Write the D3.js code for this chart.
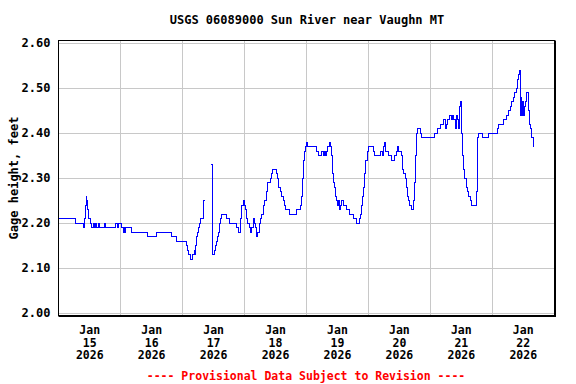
<!DOCTYPE html>
<html>
<head>
<meta charset="utf-8">
<script src="https://cdn.jsdelivr.net/npm/d3@7"></script>
<style>
  body { margin: 0; background: #fff; }
  text { font-family: "DejaVu Sans Mono", "Liberation Mono", monospace; font-weight: bold; }
</style>
</head>
<body>
<div id="chart"></div>
<script>
// hours after Jan 15 2026 00:00, gage height in feet (null = gap in record)
var hours = [0, 6.6, 9.5, 9.9, 10.3, 10.6, 10.9, 11.2, 11.5, 12.1, 12.8, 13.3, 13.7, 14.3, 14.6, 15.5, 15.9, 17.7, 18.1,
    21.8, 22.6, 23.0, 24.4, 24.9, 25.2, 25.5, 26.0, 28.0, 34.2, 38.0, 43.7, 45.7, 49.3, 50.0, 50.4, 51.1, 52.0, 52.4,
    52.7, 53.0, 53.3, 53.7, 54.1, 54.5, 55.0, 55.9, 56.2, 56.5, 56.6,
    59.1, 59.4, 60.3, 60.8, 61.2, 61.6, 62.0, 62.4, 62.8, 63.1, 65.1, 66.1, 68.9, 69.6, 70.6, 71.0, 71.4, 71.9, 72.3,
    72.8, 73.3, 73.8, 74.3, 74.8, 75.3, 75.7, 76.2, 76.6, 77.1, 77.6, 78.2, 78.7, 79.2, 79.8, 80.4, 81.0, 81.9, 82.4,
    83.0, 84.4, 84.9, 85.3, 85.9, 86.4, 86.9, 87.3, 87.9, 89.3, 92.2, 93.8, 94.2, 94.5, 94.8, 95.1, 95.5, 95.9, 96.3,
    99.9, 100.5, 102.0, 102.4, 102.8, 103.2, 103.7, 104.3, 104.9, 105.3, 105.6, 105.9, 106.3, 106.7, 107.2, 107.6,
    108.0, 108.4, 108.7, 109.2, 109.6, 110.5, 111.6, 112.7, 114.4, 115.5, 116.5, 116.9, 117.3, 117.7, 118.1, 118.5,
    119.0, 119.5, 120.0, 122.0, 122.5, 124.8, 125.3, 125.8, 126.4, 126.8, 127.7, 129.0, 130.1, 130.7, 131.4, 131.8,
    132.9, 133.2, 133.7, 134.3, 134.8, 135.2, 135.7, 136.1, 136.7, 137.6, 138.0, 138.3, 138.7, 139.1, 140.2, 140.7,
    145.8, 146.6, 147.8, 149.2, 149.7, 150.3, 150.8, 151.5, 152.2, 152.7, 153.1, 153.6, 154.1, 154.4, 154.8, 155.3,
    155.6, 156.0, 156.4, 156.9, 157.4, 157.9, 158.4, 158.9, 159.4, 159.9, 161.7, 162.1, 162.4, 162.8, 164.3, 166.4,
    170.1, 170.5, 172.2, 173.6, 174.3, 174.9, 175.6, 176.2, 176.8, 177.3, 177.8, 178.3, 178.6, 178.9, 179.2, 179.5,
    179.8, 180.1, 180.5, 181.0, 181.4, 182.2, 182.6, 183.0, 183.3, 183.9, 184.2];

var gageFt = [2.21, 2.20, 2.19, 2.21, 2.24, 2.26, 2.25, 2.23, 2.21, 2.20, 2.19, 2.20, 2.19, 2.20, 2.19, 2.20, 2.19, 2.20, 2.19,
    2.20, 2.19, 2.20, 2.19, 2.18, 2.19, 2.18, 2.19, 2.18, 2.17, 2.18, 2.17, 2.16, 2.15, 2.14, 2.13, 2.12, 2.13, 2.14,
    2.13, 2.15, 2.17, 2.18, 2.19, 2.20, 2.21, 2.23, 2.25, 2.25, null,
    2.33, 2.13, 2.14, 2.15, 2.16, 2.17, 2.18, 2.20, 2.21, 2.22, 2.21, 2.20, 2.19, 2.18, 2.21, 2.24, 2.25, 2.24, 2.23,
    2.21, 2.20, 2.19, 2.18, 2.19, 2.21, 2.20, 2.19, 2.17, 2.18, 2.20, 2.21, 2.22, 2.24, 2.25, 2.27, 2.29, 2.30, 2.31,
    2.32, 2.31, 2.30, 2.28, 2.27, 2.26, 2.25, 2.24, 2.23, 2.22, 2.23, 2.24, 2.26, 2.30, 2.34, 2.36, 2.37, 2.38, 2.37,
    2.36, 2.35, 2.36, 2.35, 2.36, 2.35, 2.36, 2.37, 2.38, 2.37, 2.35, 2.31, 2.29, 2.28, 2.26, 2.25,
    2.24, 2.25, 2.23, 2.24, 2.25, 2.24, 2.23, 2.22, 2.21, 2.20, 2.21, 2.22, 2.24, 2.26, 2.28, 2.31,
    2.34, 2.36, 2.37, 2.36, 2.35, 2.36, 2.35, 2.37, 2.38, 2.36, 2.35, 2.34, 2.35, 2.36, 2.37, 2.36,
    2.35, 2.32, 2.31, 2.30, 2.28, 2.26, 2.25, 2.24, 2.23, 2.25, 2.29, 2.35, 2.40, 2.41, 2.40, 2.39,
    2.40, 2.41, 2.42, 2.43, 2.41, 2.42, 2.43, 2.44, 2.43, 2.44, 2.43, 2.41, 2.44, 2.43, 2.41, 2.46,
    2.47, 2.40, 2.35, 2.32, 2.30, 2.28, 2.27, 2.26, 2.25, 2.24, 2.27, 2.35, 2.39, 2.40, 2.39, 2.40,
    2.41, 2.42, 2.43, 2.44, 2.45, 2.46, 2.47, 2.48, 2.49, 2.50, 2.52, 2.53, 2.54, 2.44, 2.48, 2.44,
    2.47, 2.44, 2.46, 2.47, 2.49, 2.45, 2.42, 2.41, 2.39, 2.37, 2.37];

var yTicks = [2.00, 2.10, 2.20, 2.30, 2.40, 2.50, 2.60];
var dayLabels = ["15", "16", "17", "18", "19", "20", "21", "22"];
var monthLabel = "Jan";
var yearLabel = "2026";
var title = "USGS 06089000 Sun River near Vaughn MT";
var yTitle = "Gage height, feet";
var footer = "---- Provisional Data Subject to Revision ----";

var width = 576;
var height = 384;
// plot frame (named so they don't clash with window.top)
var plotLeft = 58.5, plotRight = 554.5, plotTop = 40.5, plotBottom = 315.5;

var t0 = Date.UTC(2026, 0, 15);
var hourMs = 3600 * 1000;

var data = hours.map(function (h, i) {
    return { date: new Date(t0 + h * hourMs), value: gageFt[i] };
});

var svg = d3.select("#chart")
    .append("svg")
    .attr("width", width)
    .attr("height", height);

svg.append("rect").attr("width", width).attr("height", height).attr("fill", "#fff");

var xScale = d3.scaleUtc()
    .domain([new Date(t0), new Date(t0 + 8 * 24 * hourMs)])
    .range([58.8, 554.2]);

var yScale = d3.scaleLinear()
    .domain([2.0, 2.6])
    .range([313, 43]);

// grid
var midnights = d3.range(1, 8).map(function (d) { return new Date(t0 + d * 24 * hourMs); });
svg.append("g")
    .selectAll("line")
    .data(midnights)
    .enter().append("line")
    .attr("x1", function (d) { return Math.floor(xScale(d)) + 0.5; })
    .attr("x2", function (d) { return Math.floor(xScale(d)) + 0.5; })
    .attr("y1", plotTop)
    .attr("y2", plotBottom)
    .attr("stroke", "#c8c8c8")
    .attr("stroke-width", 1);

svg.append("g")
    .attr("transform", "translate(" + plotLeft + ",0)")
    .call(d3.axisLeft(yScale).tickValues(yTicks).tickSize(-(plotRight - plotLeft)).tickFormat(""))
    .call(function (g) { g.select(".domain").remove(); })
    .selectAll("line")
    .attr("stroke", "#c8c8c8")
    .attr("shape-rendering", "crispEdges");

// y tick labels
svg.append("g")
    .attr("transform", "translate(" + plotLeft + ",0)")
    .call(d3.axisLeft(yScale).tickValues(yTicks).tickSize(0).tickPadding(8).tickFormat(d3.format(".2f")))
    .call(function (g) { g.select(".domain").remove(); })
    .selectAll("text")
    .attr("font-family", "DejaVu Sans Mono")
    .attr("font-weight", "bold")
    .attr("font-size", "12px")
    .attr("fill", "#000");

// the gage line
var line = d3.line()
    .defined(function (d) { return d.value !== null; })
    .x(function (d) { return xScale(d.date); })
    .y(function (d) { return yScale(d.value); })
    .curve(d3.curveStepAfter);

svg.append("path")
    .datum(data)
    .attr("fill", "none")
    .attr("stroke", "#0000ff")
    .attr("stroke-width", 1)
    .attr("shape-rendering", "crispEdges")
    .attr("d", line);

// frame
svg.append("rect")
    .attr("x", plotLeft)
    .attr("y", plotTop)
    .attr("width", plotRight - plotLeft)
    .attr("height", plotBottom - plotTop)
    .attr("fill", "none")
    .attr("stroke", "#000")
    .attr("stroke-width", 1);
svg.append("line").attr("x1", plotRight + 1).attr("x2", plotRight + 1).attr("y1", plotTop).attr("y2", plotBottom + 1.5)
    .attr("stroke", "#000");
svg.append("line").attr("x1", plotLeft).attr("x2", plotRight + 1.5).attr("y1", plotBottom + 1).attr("y2", plotBottom + 1)
    .attr("stroke", "#000");

// x labels at noon of each day
var noons = dayLabels.map(function (d, i) { return new Date(t0 + (i * 24 + 12) * hourMs); });
var xl = svg.append("g")
    .selectAll("text")
    .data(noons)
    .enter().append("text")
    .attr("text-anchor", "middle")
    .attr("font-size", "11.5px")
    .attr("fill", "#000");
xl.append("tspan").attr("x", function (d) { return xScale(d); }).attr("y", 334).text(monthLabel);
xl.append("tspan").attr("x", function (d) { return xScale(d); }).attr("y", 346.5).text(function (d, i) { return dayLabels[i]; });
xl.append("tspan").attr("x", function (d) { return xScale(d); }).attr("y", 359).text(yearLabel);

// titles
svg.append("text")
    .attr("x", 307)
    .attr("y", 24)
    .attr("text-anchor", "middle")
    .attr("font-size", "12px")
    .text(title);

svg.append("text")
    .attr("transform", "translate(18," + ((plotTop + plotBottom) / 2) + ") rotate(-90)")
    .attr("text-anchor", "middle")
    .attr("font-size", "12px")
    .text(yTitle);

svg.append("text")
    .attr("x", 306)
    .attr("y", 380)
    .attr("text-anchor", "middle")
    .attr("font-size", "11.5px")
    .attr("fill", "#ff0000")
    .text(footer);
</script>
</body>
</html>
